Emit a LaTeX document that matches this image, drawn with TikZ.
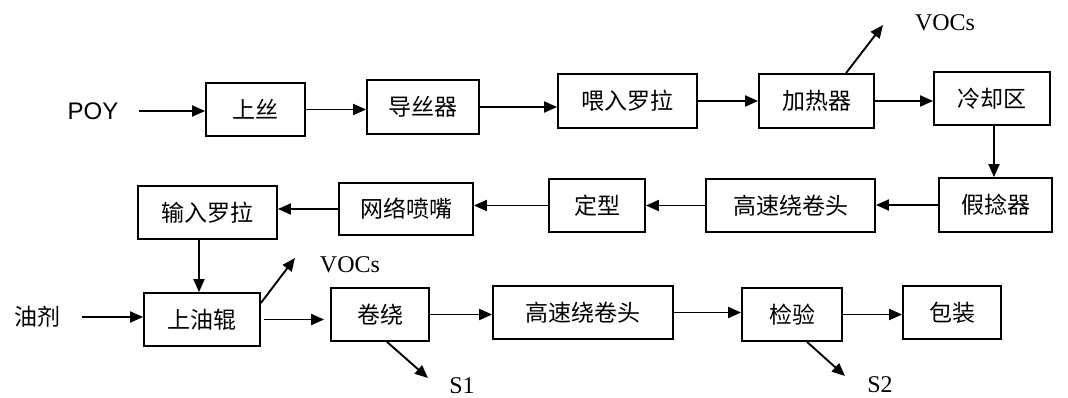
\documentclass[tikz,border=0pt]{standalone}
\usepackage{fontspec}
\setmainfont{Liberation Serif}
\setsansfont{Liberation Sans}
\newfontfamily\cjk{Noto Sans CJK SC}
\usetikzlibrary{arrows.meta}
\begin{document}
\begin{tikzpicture}[x=1pt,y=-1pt,
  box/.style={draw, line width=1.8pt, inner sep=0pt, font=\cjk\fontsize{23}{26}\selectfont},
  arr/.style={-{Triangle[length=13pt,width=11pt]}, line width=1.9pt},
  lab/.style={inner sep=0pt, font=\fontsize{24}{28}\selectfont},
  cjklab/.style={inner sep=0pt, font=\cjk\fontsize{23}{26}\selectfont},
  sanslab/.style={inner sep=0pt, font=\sffamily\fontsize{24}{28}\selectfont}]
\useasboundingbox (0,0) rectangle (1068,398);
% row 1
\node[sanslab] (poy) at (93,111) {POY};
\node[box, minimum width=99pt,  minimum height=53pt] (s1) at (255.5,109.5) {上丝};
\node[box, minimum width=112pt, minimum height=54pt] (s2) at (423,107) {导丝器};
\node[box, minimum width=139pt, minimum height=54pt] (s3) at (627.5,101) {喂入罗拉};
\node[box, minimum width=115pt, minimum height=54pt] (s4) at (816.5,101) {加热器};
\node[box, minimum width=116pt, minimum height=53pt] (s5) at (992,98.5) {冷却区};
\node[lab] (voc1) at (945,23) {VOCs};
\coordinate (v1e) at (883,25);
% row 2
\node[box, minimum width=113pt, minimum height=54pt] (s6) at (995.5,205) {假捻器};
\node[box, minimum width=169pt, minimum height=53pt] (s7) at (790.5,205.5) {高速绕卷头};
\node[box, minimum width=96pt,  minimum height=53pt] (s8) at (597,205.5) {定型};
\node[box, minimum width=134pt, minimum height=52pt] (s9) at (406,209) {网络喷嘴};
\node[box, minimum width=139pt, minimum height=53pt] (s10) at (207.5,212.5) {输入罗拉};
% row 3
\node[cjklab] (oil) at (37,317) {油剂};
\node[box, minimum width=116pt, minimum height=53pt] (s11) at (202,319.5) {上油辊};
\node[box, minimum width=98pt,  minimum height=53pt] (s12) at (380,314.5) {卷绕};
\node[box, minimum width=180pt, minimum height=53pt] (s13) at (583,312.5) {高速绕卷头};
\node[box, minimum width=100pt, minimum height=53pt] (s14) at (792,314.5) {检验};
\node[box, minimum width=98pt,  minimum height=53pt] (s15) at (952,312.5) {包装};
\node[lab] (voc2) at (350,265) {VOCs};
\node[lab] (S1) at (462,386) {S1};
\node[lab] (S2) at (880,385) {S2};
\coordinate (v2e) at (295,258);
\coordinate (s1e) at (428,378);
\coordinate (s2e) at (845,376);
% connectors
\draw[arr, shorten <=20pt] (poy.east) -- (poy.east -| s1.west);
\draw[arr] (s1.east) -- (s1.east -| s2.west);
\draw[arr] (s2.east) -- (s2.east -| s3.west);
\draw[arr] (s3.east) -- (s3.east -| s4.west);
\draw[arr] (s4.east) -- (s4.east -| s5.west);
\draw[arr] ([xshift=29.5pt]s4.north) -- (v1e);
\draw[arr] ([xshift=2pt]s5.south) -- ([xshift=2pt]s5.south |- s6.north);
\draw[arr] (s6.west) -- (s6.west -| s7.east);
\draw[arr] (s7.west) -- (s7.west -| s8.east);
\draw[arr] (s8.west) -- (s8.west -| s9.east);
\draw[arr] (s9.west) -- (s9.west -| s10.east);
\draw[arr] ([xshift=-3pt]s11.north |- s10.south) -- ([xshift=-3pt]s11.north);
\draw[arr, shorten <=22pt] (oil.east) -- (oil.east -| s11.west);
\draw[arr, shorten <=3pt, shorten >=6pt] (s11.east) -- (s11.east -| s12.west);
\draw[arr] ([yshift=16.5pt]s11.east) -- (v2e);
\draw[arr] (s12.east) -- (s12.east -| s13.west);
\draw[arr] (s13.east) -- (s13.east -| s14.west);
\draw[arr] (s14.east) -- (s14.east -| s15.west);
\draw[arr] ([xshift=7pt]s12.south) -- (s1e);
\draw[arr] ([xshift=15pt]s14.south) -- (s2e);
\end{tikzpicture}
\end{document}
